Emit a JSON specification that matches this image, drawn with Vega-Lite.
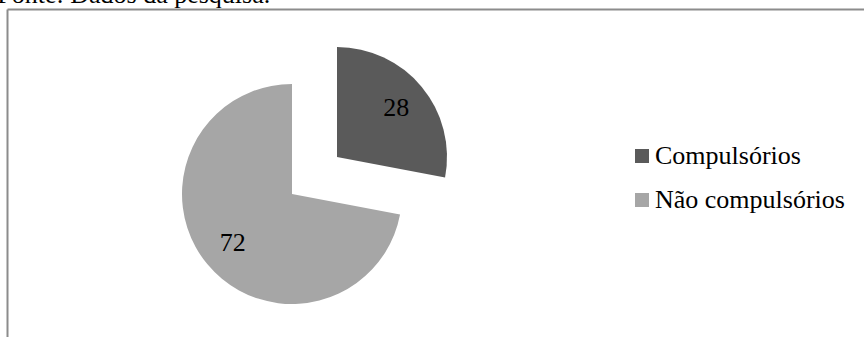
{
  "$schema": "https://vega.github.io/schema/vega-lite/v6.json",
  "width": 857,
  "height": 328,
  "autosize": {"type": "none"},
  "padding": {"left": 7, "top": 9, "right": 0, "bottom": 0},
  "background": "white",
  "title": {
    "text": "Fonte: Dados da pesquisa.",
    "anchor": "start",
    "font": "Liberation Serif, Times New Roman, serif",
    "fontSize": 26,
    "fontWeight": "normal",
    "color": "#000000",
    "offset": 1,
    "dx": -7
  },
  "config": {
    "view": {"stroke": null},
    "axis": {"grid": false, "ticks": false, "labels": false, "title": null, "domainColor": "#8c8c8c", "domainWidth": 2}
  },
  "data": {
    "values": [
      {"categoria": "Compulsórios", "valor": 28},
      {"categoria": "Não compulsórios", "valor": 72}
    ]
  },
  "layer": [
    {
      "mark": {"type": "point", "opacity": 0},
      "encoding": {
        "x": {"datum": 0, "type": "quantitative", "scale": {"domain": [0, 1]}, "axis": {"orient": "top"}},
        "y": {"datum": 0, "type": "quantitative", "scale": {"domain": [0, 1]}, "axis": {"orient": "left"}}
      }
    },
    {
      "transform": [
        {"stack": "valor", "groupby": [], "as": ["v0", "v1"], "sort": [{"field": "categoria", "order": "ascending"}]},
        {"filter": "datum.categoria === 'Não compulsórios'"}
      ],
      "mark": {"type": "arc", "radius": 110, "xOffset": -143.5, "yOffset": 21},
      "encoding": {
        "theta": {"field": "v0", "type": "quantitative", "scale": {"domain": [0, 100]}},
        "theta2": {"field": "v1"},
        "color": {
          "field": "categoria",
          "type": "nominal",
          "scale": {"domain": ["Compulsórios", "Não compulsórios"], "range": ["#5a5a5a", "#a6a6a6"]},
          "legend": {
            "title": null,
            "orient": "none",
            "legendX": 622,
            "legendY": 134,
            "padding": 0,
            "symbolType": "square",
            "symbolSize": 196,
            "symbolStrokeWidth": 0,
            "labelFont": "Liberation Serif, Times New Roman, serif",
            "labelFontSize": 26,
            "labelColor": "#000000",
            "labelOffset": 0,
            "labelLimit": 400,
            "rowPadding": 18
          }
        }
      }
    },
    {
      "transform": [
        {"stack": "valor", "groupby": [], "as": ["v0", "v1"], "sort": [{"field": "categoria", "order": "ascending"}]},
        {"filter": "datum.categoria === 'Compulsórios'"}
      ],
      "mark": {"type": "arc", "radius": 110, "xOffset": -98.5, "yOffset": -16},
      "encoding": {
        "theta": {"field": "v0", "type": "quantitative"},
        "theta2": {"field": "v1"},
        "color": {"field": "categoria", "type": "nominal"}
      }
    },
    {
      "mark": {"type": "text", "radius": 77, "xOffset": -143.5, "yOffset": 21, "font": "Liberation Serif, Times New Roman, serif", "fontSize": 26, "color": "#000000"},
      "encoding": {
        "theta": {"field": "valor", "type": "quantitative", "stack": true},
        "detail": {"field": "categoria", "type": "nominal"},
        "order": {"field": "categoria", "type": "ordinal", "sort": "ascending"},
        "text": {"condition": {"test": "datum.categoria === 'Não compulsórios'", "field": "valor", "type": "quantitative"}, "value": ""}
      }
    },
    {
      "mark": {"type": "text", "radius": 77, "xOffset": -98.5, "yOffset": -16, "font": "Liberation Serif, Times New Roman, serif", "fontSize": 26, "color": "#000000"},
      "encoding": {
        "theta": {"field": "valor", "type": "quantitative", "stack": true},
        "detail": {"field": "categoria", "type": "nominal"},
        "order": {"field": "categoria", "type": "ordinal", "sort": "ascending"},
        "text": {"condition": {"test": "datum.categoria === 'Compulsórios'", "field": "valor", "type": "quantitative"}, "value": ""}
      }
    }
  ]
}
